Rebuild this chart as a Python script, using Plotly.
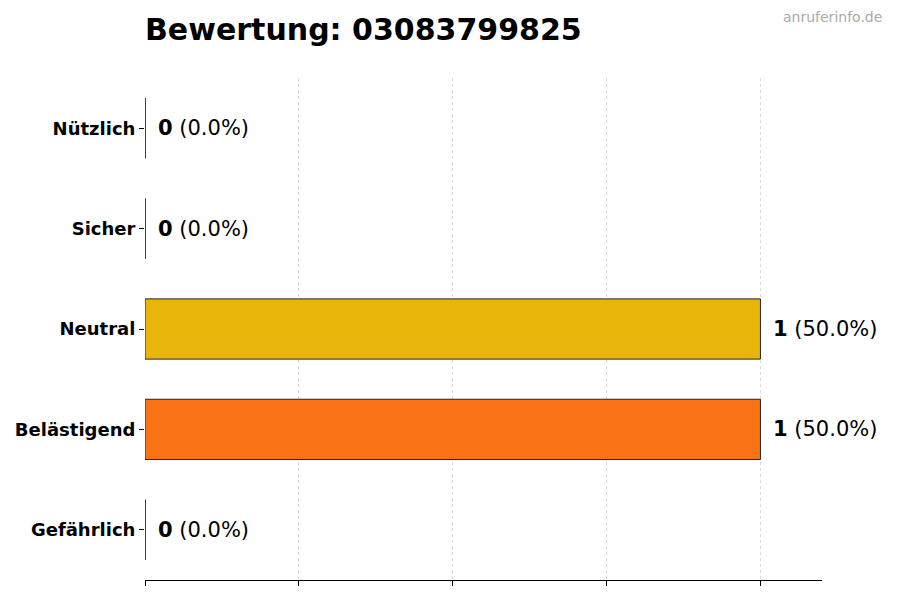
import plotly.graph_objects as go

CATEGORIES = ["Gefährlich", "Belästigend", "Neutral", "Sicher", "Nützlich"]
COUNTS = [0, 1, 1, 0, 0]
COLORS = ["#DC2626", "#F97316", "#E8B50B", "#84CC16", "#16A34A"]
TITLE = "Bewertung: 03083799825"

total = sum(COUNTS)
shares = [c / total * 100 if total else 0 for c in COUNTS]

fig = go.Figure()
fig.add_trace(go.Bar(
    x=COUNTS, y=CATEGORIES,
    orientation="h",
    width=0.6,
    marker=dict(color=COLORS, line=dict(color="#222222", width=1)),
    hoverinfo="skip"
))
# edge of zero-length bars (line-ns is drawn 1.4x the marker size)
fig.add_trace(go.Scatter(
    x=[c for c in COUNTS if c == 0],
    y=[cat for cat, c in zip(CATEGORIES, COUNTS) if c == 0],
    mode="markers",
    marker=dict(symbol="line-ns", size=43, line=dict(color="#222222", width=1)),
    hoverinfo="skip"
))

for cat, c, s in zip(CATEGORIES, COUNTS, shares):
    fig.add_annotation(
        x=c, y=cat, xanchor="left", xshift=11, showarrow=False,
        text=f"<b>{c}</b> ({s:.1f}%)",
        font=dict(family="DejaVu Sans", size=21, color="black")
    )

fig.add_annotation(
    xref="paper", yref="paper", x=1.092, y=1.121, xanchor="right", yanchor="middle",
    text="anruferinfo.de", showarrow=False,
    font=dict(family="DejaVu Sans", size=14, color="#aaaaaa")
)

fig.update_layout(
    title=dict(text=f"<b>{TITLE}</b>", x=137 / 892, xanchor="left", y=0.963, yanchor="middle",
               font=dict(family="DejaVu Sans", size=30, color="black")),
    width=892, height=592,
    margin=dict(l=137, r=78, t=70, b=20),
    plot_bgcolor="white", paper_bgcolor="white",
    showlegend=False,
    font=dict(family="DejaVu Sans", color="black")
)
fig.update_xaxes(
    range=[0, 1.1], tickvals=[0, 0.25, 0.5, 0.75, 1.0], showticklabels=False,
    ticks="outside", ticklen=5, tickcolor="black",
    showgrid=True, gridcolor="#dadada", griddash="3px,3px", gridwidth=1,
    showline=True, linecolor="black", linewidth=1, zeroline=False, automargin=False
)
fig.update_yaxes(
    range=[-0.5, 4.5], ticks="outside", ticklen=5, tickcolor="black",
    tickfont=dict(family="DejaVu Sans", size=18, color="black", weight="bold"),
    showgrid=False, showline=False, zeroline=False, automargin=False
)
fig.write_html("out.html")
